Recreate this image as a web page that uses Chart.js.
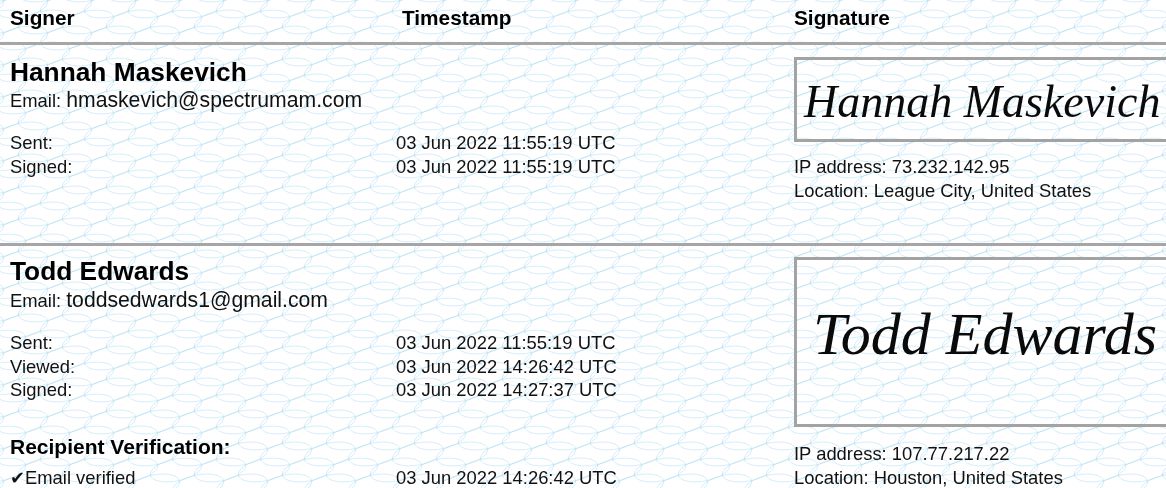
<!DOCTYPE html>
<html lang="en">
<head>
  <meta charset="UTF-8" />
  <title>Signer audit trail</title>
  <script src="https://cdn.jsdelivr.net/npm/chart.js"></script>
  <style>
    html, body { margin: 0; padding: 0; }
    body { width: 1166px; height: 488px; overflow: hidden; position: relative; background: #fff;
           font-family: "Liberation Sans", Arial, sans-serif; color: #111; }
    #bg { position: absolute; left: 0; top: 0; z-index: 0; }
    .t { position: absolute; white-space: nowrap; line-height: 1; z-index: 1; }
    .h { font-weight: bold; font-size: 20.8px; color: #000; }
    .name { font-weight: bold; font-size: 26.3px; color: #000; }
    .b { font-size: 18.4px; }
    .em { font-size: 21.2px; }
    .rv { font-weight: bold; font-size: 21px; color: #000; }
    .rule { position: absolute; left: 0; width: 1166px; height: 3px; background: #a6a6a6; z-index: 1; }
    .box { position: absolute; left: 794px; width: 420px; border: 3px solid #a3a3a3; box-sizing: border-box; z-index: 1; }
    .sig { position: absolute; white-space: nowrap; line-height: 1; z-index: 2; color: #0a0a0a;
           font-family: "Liberation Serif", "DejaVu Serif", serif; font-style: italic; }
  </style>
</head>
<body>
  <canvas id="bg" width="1166" height="488"></canvas>
  <script>
    // column headers
    const headers = ['Signer', 'Timestamp', 'Signature'];
    // signers
    const names = ['Hannah Maskevich', 'Todd Edwards'];
    const emails = ['hmaskevich@spectrumam.com', 'toddsedwards1@gmail.com'];
    const eventLabels = [['Sent:', 'Signed:'], ['Sent:', 'Viewed:', 'Signed:']];
    const eventTimes = [
      ['03 Jun 2022 11:55:19 UTC', '03 Jun 2022 11:55:19 UTC'],
      ['03 Jun 2022 11:55:19 UTC', '03 Jun 2022 14:26:42 UTC', '03 Jun 2022 14:27:37 UTC']
    ];
    const ipAddresses = ['73.232.142.95', '107.77.217.22'];
    const locations = ['League City, United States', 'Houston, United States'];
    const verifyLabel = '✔Email verified';
    const verifyTime = '03 Jun 2022 14:26:42 UTC';

    function put(cls, text, left, baseline, fs) {
      const d = document.createElement('div');
      d.className = 't ' + cls;
      d.textContent = text;
      d.style.left = left + 'px';
      d.style.top = (baseline - 0.8465 * fs) + 'px';
      document.body.appendChild(d);
      return d;
    }
    function emailLine(addr, baseline) {
      const d = document.createElement('div');
      d.className = 't em';
      d.style.left = '10px';
      d.style.top = (baseline - 0.8465 * 21.2) + 'px';
      const s = document.createElement('span');
      s.style.fontSize = '18.4px';
      s.textContent = 'Email: ';
      d.appendChild(s);
      d.appendChild(document.createTextNode(addr));
      document.body.appendChild(d);
    }
    function rule(y) {
      const r = document.createElement('div');
      r.className = 'rule';
      r.style.top = y + 'px';
      document.body.appendChild(r);
    }
    function box(top, bottom) {
      const b = document.createElement('div');
      b.className = 'box';
      b.style.top = top + 'px';
      b.style.height = (bottom - top) + 'px';
      document.body.appendChild(b);
    }
    function sig(text, left, baseline, fs) {
      const d = document.createElement('div');
      d.className = 'sig';
      d.textContent = text;
      d.style.fontSize = fs + 'px';
      d.style.left = left + 'px';
      d.style.top = (baseline - 0.891 * fs) + 'px';
      document.body.appendChild(d);
    }

    // header row
    put('h', headers[0], 10, 25.5, 20.8);
    put('h', headers[1], 402, 25.5, 20.8);
    put('h', headers[2], 794, 25.5, 20.8);
    rule(41.5);

    // signer 1
    put('name', names[0], 10, 81.7, 26.3);
    emailLine(emails[0], 106.7);
    eventLabels[0].forEach((l, i) => {
      put('b', l, 10, 150 + i * 23.3, 18.4);
      put('b', eventTimes[0][i], 396, 150 + i * 23.3, 18.4);
    });
    box(57, 142);
    sig(names[0], 804, 120, 46);
    put('b', 'IP address: ' + ipAddresses[0], 794, 173.3, 18.4);
    put('b', 'Location: ' + locations[0], 794, 197.5, 18.4);
    rule(243);

    // signer 2
    put('name', names[1], 10, 280.7, 26.3);
    emailLine(emails[1], 306.7);
    eventLabels[1].forEach((l, i) => {
      put('b', l, 10, 350 + i * 23.3, 18.4);
      put('b', eventTimes[1][i], 396, 350 + i * 23.3, 18.4);
    });
    put('rv', 'Recipient Verification:', 10, 453.3, 21);
    put('b', verifyLabel, 10, 485, 18.4);
    put('b', verifyTime, 396, 485, 18.4);
    box(257, 427);
    sig(names[1], 813, 357, 60);
    put('b', 'IP address: ' + ipAddresses[1], 794, 460.7, 18.4);
    put('b', 'Location: ' + locations[1], 794, 485, 18.4);

    // security-paper watermark painted on the chart canvas
    const watermark = {
      id: 'watermark',
      beforeDraw(chart) {
        const ctx = chart.ctx;
        ctx.save();
        ctx.fillStyle = '#ffffff';
        ctx.fillRect(0, 0, chart.width, chart.height);
        ctx.lineWidth = 1;
        ctx.strokeStyle = 'rgba(120, 195, 232, 0.30)';
        for (let row = 0, y = -10; y < chart.height + 20; row++, y += 16) {
          const off = (row % 2) * 22;
          for (let x = -44 + off; x < chart.width + 44; x += 44) {
            ctx.beginPath();
            ctx.ellipse(x, y, 26, 11, -0.2, 0, Math.PI * 2);
            ctx.stroke();
          }
        }
        ctx.restore();
      }
    };

    new Chart(document.getElementById('bg'), {
      type: 'scatter',
      data: { datasets: [] },
      options: {
        responsive: false,
        animation: false,
        events: [],
        layout: { padding: 0 },
        plugins: { legend: { display: false }, tooltip: { enabled: false } },
        scales: { x: { display: false }, y: { display: false } }
      },
      plugins: [watermark]
    });
  </script>
</body>
</html>
